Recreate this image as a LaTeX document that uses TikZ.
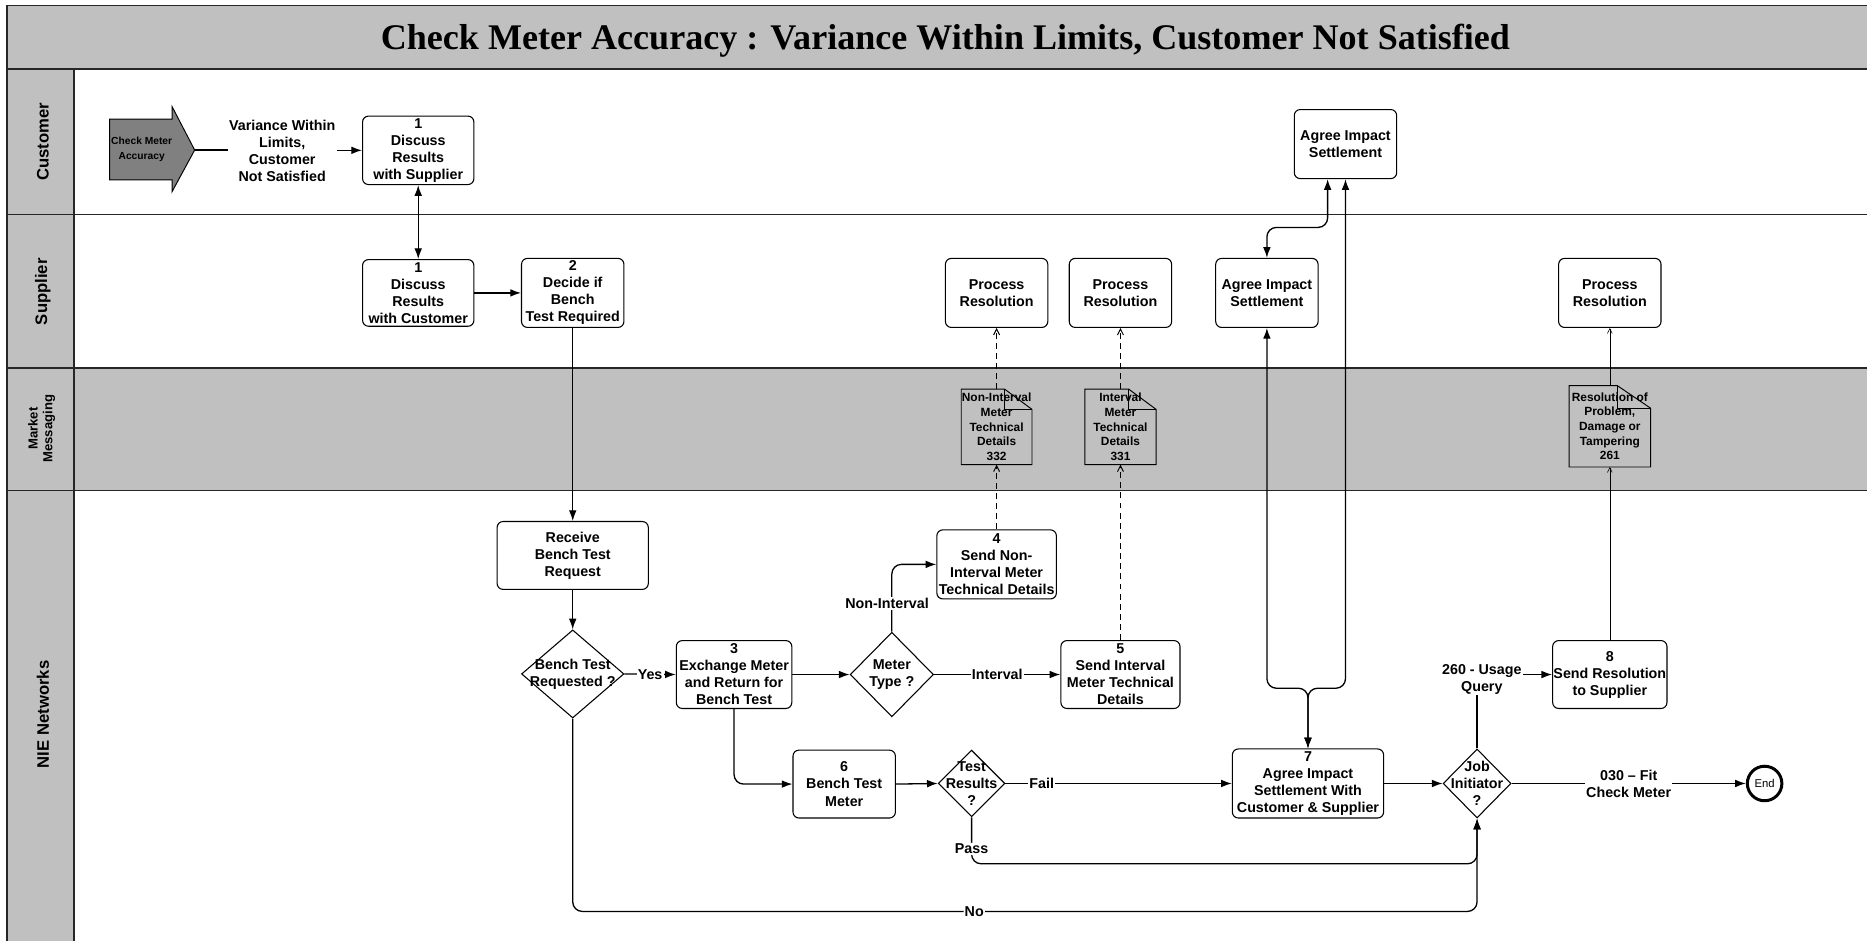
\documentclass[tikz,border=0pt]{standalone}
\usepackage{fontspec}
\setmainfont{Liberation Sans}
\newfontfamily\serifb{Liberation Serif}
\usetikzlibrary{arrows.meta,shapes.geometric,calc}
\definecolor{lanegray}{RGB}{192,192,192}
\definecolor{startgray}{RGB}{128,128,128}
\newcommand\drawdoc[3]{%
  \draw[line width=0.8pt] (#1.south west) -- (#1.north west) -- ([xshift=-#2pt]#1.north east)
     -- ([yshift=-#3pt]#1.north east) -- (#1.south east) -- cycle;
  \draw[line width=0.8pt] ([xshift=-#2pt]#1.north east) |- ([yshift=-#3pt]#1.north east);}
\begin{document}
\begin{tikzpicture}[x=1pt,y=-1pt,
  boxfont/.style={font=\bfseries\fontsize{12}{14.3}\selectfont},
  box/.style={draw, rounded corners=5pt, fill=white, align=center, inner sep=0pt,
              line width=0.9pt, boxfont},
  dia/.style={draw, diamond, fill=white, inner sep=0pt, line width=0.9pt},
  dtxt/.style={align=center, inner sep=0pt, boxfont},
  doc/.style={align=center, inner sep=0pt, font=\bfseries\fontsize{10}{12.3}\selectfont},
  lbl/.style={fill=white, inner sep=1pt, align=center, boxfont},
  lane/.style={rotate=90, align=center, font=\bfseries\fontsize{14}{16}\selectfont},
  conn/.style={line width=1.1pt, -{Latex[length=9pt,width=6.5pt]}},
  conn2/.style={line width=1.1pt, {Latex[length=9pt,width=6.5pt]}-{Latex[length=9pt,width=6.5pt]}},
  ln/.style={line width=1.1pt},
  dconn/.style={line width=0.8pt, dash pattern=on 5pt off 3.5pt, -{Straight Barb[length=5pt,width=5pt]}},
  tconn/.style={line width=0.5pt, -{Straight Barb[length=4pt,width=4pt]}},
  laneline/.style={line width=1.3pt, black!85}]
\useasboundingbox (0,0) rectangle (1568,790);
% backgrounds
\fill[white] (0,0) rectangle (1568,790);
\fill[lanegray] (6,4.5) rectangle (1568,58);
\fill[lanegray] (6,58) rectangle (62,790);
\fill[lanegray] (62,309) rectangle (1568,412);
\draw[laneline] (1568,4.5) -- (6,4.5) -- (6,790);
\foreach \yy in {58,180,309,412} \draw[laneline] (6,\yy) -- (1568,\yy);
\draw[laneline] (62,58) -- (62,790);
% title and lane labels
\node[font=\serifb\bfseries\fontsize{30.3}{36}\selectfont] (title) at (794,34)
  {Check Meter Accuracy : Variance Within Limits, Customer Not Satisfied};
\node[lane] (lcust) at (36,119) {Customer};
\node[lane] (lsup) at (36,245) {Supplier};
\node[lane, font=\bfseries\fontsize{11}{12.5}\selectfont] (lmm) at (35,360) {Market\\Messaging};
\node[lane] (lnie) at (36,600) {NIE Networks};
% start arrow
\draw[fill=startgray, line width=0.8pt] (92,100) -- (144.5,100) -- (144.5,89.5) -- (163.5,126)
  -- (144.5,161) -- (144.5,151) -- (92,151) -- cycle;
\node[align=center, inner sep=0pt, font=\bfseries\fontsize{8.6}{12}\selectfont] (start) at (119,125.5) {Check Meter\\Accuracy};
\coordinate (starttip) at (163.5,126);
\node[align=center, inner sep=1pt, boxfont] (lblvar) at (237,126.5) {Variance Within\\Limits,\\Customer\\Not Satisfied};
% customer lane boxes
\node[box, minimum width=93.5, minimum height=57.5] (b1c) at (351.25,126.25) {1\\Discuss\\Results\\with Supplier};
\node[box, minimum width=86, minimum height=58] (aisc) at (1130,121) {Agree Impact\\Settlement};
% supplier lane boxes
\node[box, minimum width=93.5, minimum height=56] (b1s) at (351.25,246) {1\\Discuss\\Results\\with Customer};
\node[box, minimum width=86, minimum height=58] (b2) at (481,246) {2\\Decide if\\Bench\\Test Required};
\node[box, minimum width=86, minimum height=58] (pr1) at (837,246) {Process\\Resolution};
\node[box, minimum width=86, minimum height=58] (pr2) at (941,246) {Process\\Resolution};
\node[box, minimum width=86, minimum height=58] (aiss) at (1064,246) {Agree Impact\\Settlement};
\node[box, minimum width=86, minimum height=58] (pr3) at (1352,246) {Process\\Resolution};
% market messaging documents
\node[doc, minimum width=59, minimum height=63] (doc332) at (837,358.5) {Non-Interval\\Meter\\Technical\\Details\\332};
\node[doc, minimum width=59.5, minimum height=63] (doc331) at (941,358.5) {Interval\\Meter\\Technical\\Details\\331};
\node[doc, minimum width=68, minimum height=68] (doc261) at (1352,358) {Resolution of\\Problem,\\Damage or\\Tampering\\261};
\drawdoc{doc332}{23}{17}
\drawdoc{doc331}{23}{17}
\drawdoc{doc261}{28}{19}
% NIE boxes
\node[box, minimum width=127, minimum height=57] (recv) at (481,466.5) {Receive\\Bench Test\\Request};
\node[box, minimum width=97, minimum height=57] (b3) at (616.5,566.5) {3\\Exchange Meter\\and Return for\\Bench Test};
\node[box, minimum width=100.4, minimum height=58] (b4) at (837,474) {4\\Send Non-\\Interval Meter\\Technical Details};
\node[box, minimum width=100, minimum height=57] (b5) at (941,566.5) {5\\Send Interval\\Meter Technical\\Details};
\node[box, minimum width=86, minimum height=57] (b6) at (709,658.5) {6\\Bench Test\\Meter};
\node[box, minimum width=127, minimum height=58] (b7) at (1098.5,658) {7\\Agree Impact\\Settlement With\\Customer \& Supplier};
\node[box, minimum width=96, minimum height=57] (b8) at (1352,566.5) {8\\Send Resolution\\to Supplier};
% diamonds
\node[dia, minimum width=86, minimum height=74] (d1) at (481,566) {};
\node[dtxt] at (d1) {Bench Test\\Requested ?};
\node[dia, minimum width=70, minimum height=71] (d2) at (749,566.5) {};
\node[dtxt] at (d2) {Meter\\Type ?};
\node[dia, minimum width=56, minimum height=56] (d3) at (816,658) {};
\node[dtxt] at (d3) {Test\\Results\\?};
\node[dia, minimum width=57, minimum height=58] (d4) at (1240.5,658) {};
\node[dtxt] at (d4) {Job\\Initiator\\?};
% end
\node[draw, circle, line width=2.5pt, minimum size=29pt, inner sep=0pt, fill=white,
      font=\fontsize{9.5}{11}\selectfont] (endn) at (1482,658) {End};
% connectors
\draw[ln] (starttip) -- (lblvar.west |- starttip);
\draw[conn] (lblvar.east |- b1c.west) -- (b1c.west);
\draw[conn2] (b1c.south) -- (b1s.north);
\draw[conn] (b1s.east) -- (b2.west);
\draw[conn] (b2.south) -- (recv.north);
\draw[conn] (recv.south) -- (d1.north);
\draw[conn] (d1.east) -- node[lbl, pos=0.5] {Yes} (b3.west);
\draw[conn] (b3.east) -- (d2.west);
\draw[conn, rounded corners=8pt] (d2.north) |- node[lbl, pos=0.21, xshift=-4pt] {Non-Interval} (b4.west);
\draw[conn] (d2.east) -- node[lbl, pos=0.5] {Interval} (b5.west);
\draw[conn, rounded corners=8pt] (b3.south) |- (b6.west);
\draw[conn] (b6.east) -- (d3.west);
\draw[conn] (d3.east) -- node[lbl, pos=0.16] {Fail} (b7.west);
\draw[conn, rounded corners=8pt] (d3.south) -- node[lbl, pos=0.68] {Pass} ++(0,39) -| (d4.south);
\draw[conn, rounded corners=8pt] (d1.south) -- ++(0,162) -| node[lbl, pos=0.222] {No} (d4.south);
\draw[conn] (b7.east) -- (d4.west);
\draw[conn] (d4.east) -- node[lbl, pos=0.5] {030 – Fit\\Check Meter} (endn.west);
\draw[conn] (d4.north) |- node[lbl, pos=0.5, xshift=4pt, yshift=-4pt] {260 - Usage\\Query} (b8.west);
\draw[dconn] (b4.north) -- (doc332.south);
\draw[dconn] (doc332.north) -- (pr1.south);
\draw[dconn] (b5.north) -- (doc331.south);
\draw[dconn] (doc331.north) -- (pr2.south);
\draw[tconn] (b8.north) -- (doc261.south);
\draw[tconn] (doc261.north) -- (pr3.south);
\draw[conn2, rounded corners=8pt] ([xshift=-15pt]aisc.south) -- ([xshift=-15pt]aisc.south |- 0,191) -| (aiss.north);
\draw[conn2, rounded corners=8pt] (aiss.south) -- (aiss.south |- 0,578) -| (b7.north);
\draw[conn2, rounded corners=8pt] (aisc.south) -- (aisc.south |- 0,578) -| (b7.north);
\end{tikzpicture}
\end{document}
